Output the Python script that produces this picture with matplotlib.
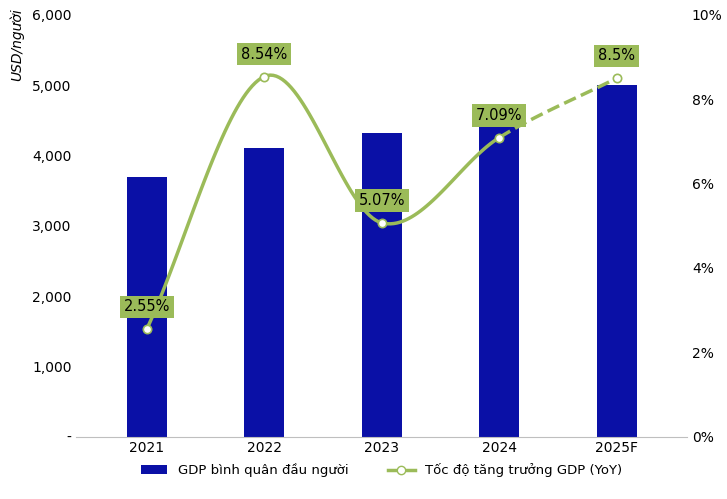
import numpy as np
import matplotlib
matplotlib.use("Agg")
import matplotlib.pyplot as plt
from matplotlib.ticker import FuncFormatter

years = ["2021", "2022", "2023", "2024", "2025F"]
gdp_per_capita = [3700, 4110, 4320, 4700, 5000]
growth = [2.55, 8.54, 5.07, 7.09, 8.5]
growth_labels = ["2.55%", "8.54%", "5.07%", "7.09%", "8.5%"]

BAR = "#0A10A6"
GREEN = "#9BBB59"


def catmull_rom(xs, ys, n=40):
    """Smooth curve through the points, one segment per pair."""
    xs, ys = np.asarray(xs, float), np.asarray(ys, float)
    px = np.concatenate([[2 * xs[0] - xs[1]], xs, [2 * xs[-1] - xs[-2]]])
    py = np.concatenate([[2 * ys[0] - ys[1]], ys, [2 * ys[-1] - ys[-2]]])
    segs = []
    t = np.linspace(0, 1, n)
    for i in range(1, len(px) - 2):
        seg = []
        for p in (px, py):
            p0, p1, p2, p3 = p[i - 1], p[i], p[i + 1], p[i + 2]
            seg.append(0.5 * (2 * p1 + (-p0 + p2) * t
                              + (2 * p0 - 5 * p1 + 4 * p2 - p3) * t ** 2
                              + (-p0 + 3 * p1 - 3 * p2 + p3) * t ** 3))
        segs.append(seg)
    return segs


fig, ax = plt.subplots(figsize=(7.27, 4.99), dpi=100)
fig.subplots_adjust(left=0.105, right=0.945, top=0.97, bottom=0.125)
x = np.arange(len(years))
ax.bar(x, gdp_per_capita, width=0.34, color=BAR, label="GDP bình quân đầu người", zorder=2)
ax.set_ylim(0, 6000)
ax.set_yticks(range(0, 6001, 1000))
ax.yaxis.set_major_formatter(FuncFormatter(lambda v, _: "-" if v == 0 else f"{int(v):,}"))
ax.set_xticks(x)
ax.set_xticklabels(years)
ax.set_xlim(-0.6, len(years) - 0.4)
ax.set_ylabel("USD/người", style="italic", fontsize=10)
ax.yaxis.set_label_coords(-0.085, 0.93)
for s in ["top", "right", "left"]:
    ax.spines[s].set_visible(False)
ax.spines["bottom"].set_color("#BFBFBF")
ax.tick_params(length=0, labelsize=10)

ax2 = ax.twinx()
ax2.set_ylim(0, 10)
ax2.set_yticks(range(0, 11, 2))
ax2.yaxis.set_major_formatter(FuncFormatter(lambda v, _: f"{int(v)}%"))
for s in ax2.spines.values():
    s.set_visible(False)
ax2.tick_params(length=0, labelsize=10)

segs = catmull_rom(x, growth)
for i, (sx, sy) in enumerate(segs):
    ls = "--" if i == len(segs) - 1 else "-"
    ax2.plot(sx, sy, color=GREEN, lw=2.5, ls=ls, zorder=3)
ax2.plot(x, growth, "o", color=GREEN, mfc="white", ms=6, mew=1.2, zorder=4)
ax2.plot([], [], "-o", color=GREEN, mfc="white", ms=6, lw=2.5, label="Tốc độ tăng trưởng GDP (YoY)")
for xi, yi, lab in zip(x, growth, growth_labels):
    ax2.annotate(lab, (xi, yi), xytext=(0, 16), textcoords="offset points",
                 ha="center", va="center", fontsize=10.5,
                 bbox=dict(boxstyle="square,pad=0.25", fc=GREEN, ec="none"), zorder=5)

h1, l1 = ax.get_legend_handles_labels()
h2, l2 = ax2.get_legend_handles_labels()
ax.legend(h1 + h2, l1 + l2, loc="upper center", bbox_to_anchor=(0.5, -0.035),
          ncol=2, frameon=False, fontsize=9.5, columnspacing=3)

fig.savefig("out.png")
